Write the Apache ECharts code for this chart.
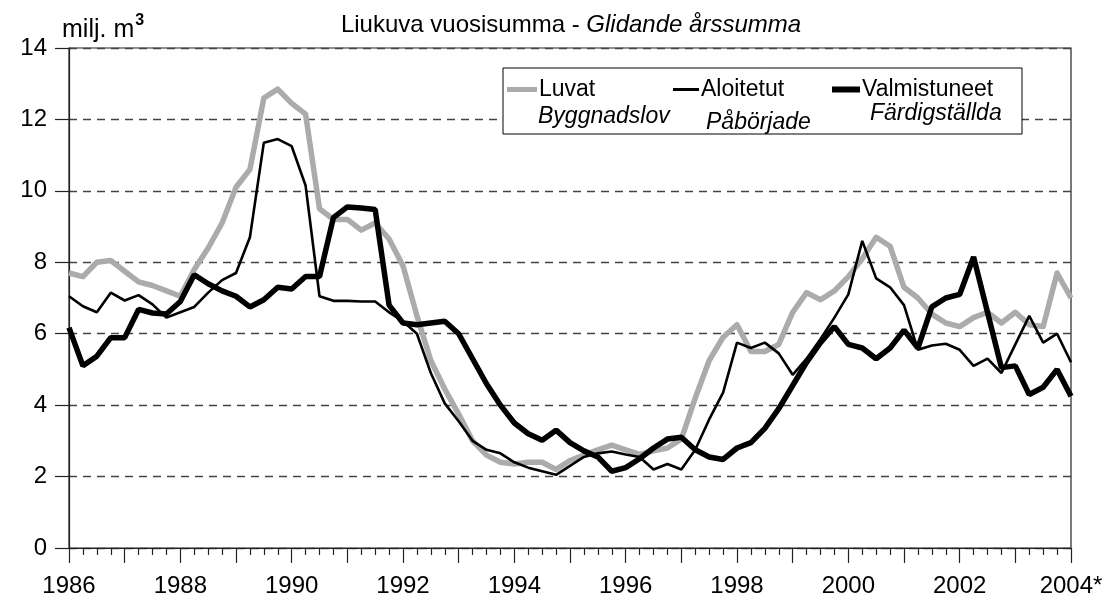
<!DOCTYPE html>
<html>
<head>
<meta charset="utf-8">
<script src="https://cdn.jsdelivr.net/npm/echarts@6/dist/echarts.min.js"></script>
<style>
  html, body { margin: 0; padding: 0; background: #fff; }
  #chart { width: 1108px; height: 600px; }
</style>
</head>
<body>
<div id="chart"></div>
<script>
// Quarterly rolling annual sums, 1986 Q1 .. 2004 Q1 (73 points), million m3
const startYear = 1986;
const endYear = 2004;
const xTickLabels = ['1986', '1988', '1990', '1992', '1994', '1996', '1998', '2000', '2002', '2004*'];
const seriesNames = ['Luvat', 'Aloitetut', 'Valmistuneet'];
const seriesNamesSv = ['Byggnadslov', 'Påbörjade', 'Färdigställda'];

const luvat = [
  7.7, 7.6, 8.0, 8.05, 7.75, 7.45, 7.35, 7.2,
  7.05, 7.8, 8.4, 9.1, 10.1, 10.6, 12.6, 12.85,
  12.45, 12.15, 9.5, 9.2, 9.2, 8.9, 9.1, 8.65,
  7.9, 6.5, 5.25, 4.45, 3.75, 3.0, 2.6, 2.4,
  2.35, 2.4, 2.4, 2.2, 2.45, 2.6, 2.75, 2.88,
  2.75, 2.62, 2.72, 2.8, 3.05, 4.2, 5.25, 5.9,
  6.25, 5.5, 5.5, 5.7, 6.6, 7.15, 6.95, 7.2,
  7.6, 8.1, 8.7, 8.45, 7.3, 7.0, 6.55, 6.3,
  6.2, 6.45, 6.6, 6.3, 6.6, 6.25, 6.2, 7.7,
  7.0
];
const aloitetut = [
  7.05, 6.77, 6.6, 7.15, 6.93, 7.08, 6.82, 6.45,
  6.6, 6.75, 7.15, 7.5, 7.7, 8.7, 11.35, 11.45,
  11.25, 10.15, 7.05, 6.92, 6.92, 6.9, 6.9, 6.6,
  6.35, 6.0, 4.9, 4.05, 3.55, 3.0, 2.75, 2.65,
  2.4, 2.25, 2.15, 2.05, 2.3, 2.55, 2.65, 2.7,
  2.62, 2.55, 2.2, 2.35, 2.2, 2.75, 3.6, 4.35,
  5.75, 5.6, 5.75, 5.45, 4.85, 5.3, 5.85, 6.45,
  7.1, 8.6, 7.55, 7.3, 6.8, 5.55, 5.67, 5.72,
  5.55, 5.1, 5.3, 4.9, 5.7, 6.5, 5.75, 6.0,
  5.2
];
const valmistuneet = [
  6.17, 5.1, 5.37, 5.89, 5.89, 6.68, 6.58, 6.55,
  6.9, 7.65, 7.4, 7.2, 7.05, 6.75, 6.95, 7.3,
  7.25, 7.6, 7.6, 9.25, 9.55, 9.52, 9.48, 6.8,
  6.3, 6.25, 6.3, 6.35, 6.0, 5.3, 4.6, 4.0,
  3.5, 3.2, 3.02, 3.3, 2.95, 2.72, 2.55, 2.15,
  2.25, 2.5, 2.8, 3.05, 3.1, 2.75, 2.55, 2.48,
  2.8, 2.95, 3.35, 3.9, 4.55, 5.2, 5.75, 6.2,
  5.7, 5.6, 5.3, 5.6, 6.1, 5.6, 6.75, 7.0,
  7.1, 8.15, 6.6, 5.05, 5.1, 4.3, 4.5, 5.0,
  4.25
];

const FONT = '"Liberation Sans", Arial, Helvetica, sans-serif';
const toPairs = arr => arr.map((v, i) => [startYear + i / 4, v]);

const chart = echarts.init(document.getElementById('chart'), null, { renderer: 'canvas' });

function legendFor(idx, left, w, h) {
  return {
    show: true,
    data: [seriesNames[idx]],
    left: left,
    top: 78,
    padding: 0,
    icon: 'rect',
    itemWidth: w,
    itemHeight: h,
    itemGap: 0,
    selectedMode: false,
    textStyle: { fontFamily: FONT, fontSize: 23, color: '#000', padding: [0, 0, 0, -3] },
    z: 6
  };
}

const option = {
  animation: false,
  backgroundColor: '#ffffff',
  title: [
    {
      text: '{a|Liukuva vuosisumma - }{b|Glidande årssumma}',
      left: 566,
      textAlign: 'center',
      top: 8,
      textStyle: {
        fontWeight: 'normal',
        rich: {
          a: { fontFamily: FONT, fontSize: 24, fontWeight: 'normal', color: '#000' },
          b: { fontFamily: FONT, fontSize: 24, fontWeight: 'normal', color: '#000', fontStyle: 'italic' }
        }
      }
    },
    {
      text: '{a|milj. m}{s|3}',
      left: 57,
      top: 8,
      textStyle: {
        fontWeight: 'normal',
        rich: {
          a: { fontFamily: FONT, fontSize: 25, fontWeight: 'normal', color: '#000', verticalAlign: 'bottom', lineHeight: 30 },
          s: { fontFamily: FONT, fontSize: 16, fontWeight: 'bold', color: '#000', verticalAlign: 'top', lineHeight: 30, padding: [0, 0, 12, 1] }
        }
      }
    }
  ],
  legend: [
    legendFor(0, 507, 30, 5),
    legendFor(1, 673, 26, 3),
    legendFor(2, 832, 28, 6)
  ],
  grid: {
    left: 69,
    right: 37,
    top: 48,
    bottom: 52,
    show: true,
    borderColor: '#222',
    borderWidth: 1.2,
    backgroundColor: 'transparent'
  },
  xAxis: {
    type: 'value',
    min: startYear,
    max: endYear,
    interval: 1,
    axisLine: { show: true, onZero: false, lineStyle: { color: '#222', width: 1.2 } },
    axisTick: { show: true, length: 15, lineStyle: { color: '#222', width: 1.2 } },
    minorTick: { show: true, splitNumber: 4, length: 7, lineStyle: { color: '#222', width: 1.2 } },
    splitLine: { show: false },
    axisLabel: {
      margin: 26,
      fontFamily: FONT,
      fontSize: 24,
      color: '#000',
      showMaxLabel: true,
      formatter: function (v) {
        const idx = (Math.round(v) - startYear) / 2;
        return Number.isInteger(idx) && xTickLabels[idx] ? xTickLabels[idx] : '';
      }
    }
  },
  yAxis: {
    type: 'value',
    min: 0,
    max: 14,
    interval: 2,
    axisLine: { show: true, lineStyle: { color: '#222', width: 1.2 } },
    axisTick: { show: true, length: 14, lineStyle: { color: '#222', width: 1.2 } },
    splitLine: { show: true, lineStyle: { color: '#444', width: 1.3, type: [8, 6] } },
    axisLabel: { margin: 22, fontFamily: FONT, fontSize: 24, color: '#000' }
  },
  graphic: [
    {
      type: 'rect',
      shape: { x: 503, y: 68, width: 519, height: 66 },
      style: { fill: '#ffffff', stroke: '#000', lineWidth: 1 },
      z: 3
    },
    {
      type: 'text', x: 538, y: 105, z: 5,
      style: { text: seriesNamesSv[0], fontFamily: FONT, fontSize: 23, fontStyle: 'italic', fill: '#000', verticalAlign: 'top' }
    },
    {
      type: 'text', x: 706, y: 111, z: 5,
      style: { text: seriesNamesSv[1], fontFamily: FONT, fontSize: 23, fontStyle: 'italic', fill: '#000', verticalAlign: 'top' }
    },
    {
      type: 'text', x: 870, y: 102, z: 5,
      style: { text: seriesNamesSv[2], fontFamily: FONT, fontSize: 23, fontStyle: 'italic', fill: '#000', verticalAlign: 'top' }
    }
  ],
  series: [
    {
      name: seriesNames[0],
      type: 'line',
      data: toPairs(luvat),
      symbol: 'none',
      color: '#ababab',
      lineStyle: { color: '#ababab', width: 5.5, join: 'round' },
      z: 2
    },
    {
      name: seriesNames[1],
      type: 'line',
      data: toPairs(aloitetut),
      symbol: 'none',
      color: '#000',
      lineStyle: { color: '#000', width: 2.6 },
      z: 3
    },
    {
      name: seriesNames[2],
      type: 'line',
      data: toPairs(valmistuneet),
      symbol: 'none',
      color: '#000',
      lineStyle: { color: '#000', width: 5.5 },
      z: 4
    }
  ]
};

chart.setOption(option);
</script>
</body>
</html>
